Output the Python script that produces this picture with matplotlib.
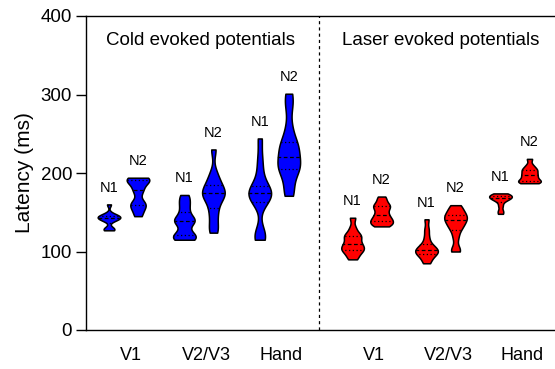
import numpy as np
import matplotlib
matplotlib.use("Agg")
import matplotlib.pyplot as plt

plt.rcParams["font.family"] = ["Liberation Sans", "DejaVu Sans"]

# Latencies (ms) per subject for each condition
cold_v1_n1 = [127, 128, 130, 139, 141, 142, 143, 144, 145, 146, 148, 160]
cold_v1_n2 = [145, 152, 158, 160, 163, 176, 180, 188, 190, 192, 193, 194]
cold_v2_n1 = [115, 116, 118, 121, 124, 135, 139, 140, 142, 150, 158, 165, 172]
cold_v2_n2 = [124, 132, 145, 155, 165, 170, 174, 175, 178, 185, 190, 200, 230]
cold_hand_n1 = [115, 119, 124, 163, 167, 171, 175, 176, 178, 184, 200, 218, 244]
cold_hand_n2 = [171, 182, 200, 205, 208, 215, 221, 230, 236, 240, 258, 285, 301]

laser_v1_n1 = [90, 95, 100, 102, 104, 106, 110, 112, 118, 120, 122, 130, 143]
laser_v1_n2 = [132, 134, 136, 138, 140, 142, 145, 148, 152, 156, 158, 160, 165, 170]
laser_v2_n1 = [85, 90, 95, 97, 99, 100, 102, 104, 106, 110, 118, 128, 141]
laser_v2_n2 = [100, 103, 118, 128, 132, 136, 140, 142, 144, 147, 150, 155, 159]
laser_hand_n1 = [148, 152, 158, 163, 166, 167, 168, 169, 170, 171, 172, 173, 174]
laser_hand_n2 = [187, 188, 189, 190, 192, 195, 197, 199, 202, 204, 206, 210, 218]

sites = ["V1", "V2/V3", "Hand"]
components = ["N1", "N2"]
cold_series = [cold_v1_n1, cold_v1_n2, cold_v2_n1, cold_v2_n2, cold_hand_n1, cold_hand_n2]
laser_series = [laser_v1_n1, laser_v1_n2, laser_v2_n1, laser_v2_n2, laser_hand_n1, laser_hand_n2]
panel_titles = ["Cold evoked potentials", "Laser evoked potentials"]
panel_colors = ["#0000FF", "#FF0000"]
y_ticks = [0, 100, 200, 300, 400]

fig = plt.figure(figsize=(5.55, 3.69), dpi=100)
ax = fig.add_axes([86 / 555, 39 / 369, (555 - 86) / 555, 314 / 369])

panel_starts = [0.0, 8.4]
group_step = [2.6, 2.55]
vwidth = 0.78

tick_pos, tick_lab = [], []
for p, (series, color) in enumerate(zip([cold_series, laser_series], panel_colors)):
    for g, site in enumerate(sites):
        for c, comp in enumerate(components):
            data = np.asarray(series[2 * g + c], dtype=float)
            pos = panel_starts[p] + g * group_step[p] + c
            parts = ax.violinplot([data], positions=[pos], widths=vwidth,
                                  showextrema=False, bw_method=0.32)
            body = parts["bodies"][0]
            body.set_facecolor(color)
            body.set_edgecolor("black")
            body.set_linewidth(1.1)
            body.set_alpha(1)
            q1, med, q3 = np.percentile(data, [25, 50, 75])
            clip_path = body.get_paths()[0]
            for val, ls in [(med, (0, (3, 2))), (q1, (0, (1, 2))), (q3, (0, (1, 2)))]:
                ln = ax.hlines(val, pos - vwidth / 2, pos + vwidth / 2,
                               colors="black", linewidth=0.9, linestyles=[ls])
                ln.set_clip_path(clip_path, ax.transData)
            ax.annotate(comp, (pos, data.max()), xytext=(0, 7),
                        textcoords="offset points", ha="center", va="bottom",
                        fontsize=10.5)
        tick_pos.append(panel_starts[p] + g * group_step[p] + 0.75)
        tick_lab.append(site)

ax.axvline(7.24, color="black", linewidth=0.9, linestyle=(0, (2.5, 2.5)))
ax.text(3.14, 369, panel_titles[0], ha="center", va="center", fontsize=13.5)
ax.text(11.43, 369, panel_titles[1], ha="center", va="center", fontsize=13.5)

ax.set_xlim(-0.793, 15.38)
ax.set_ylim(0, 400)
ax.set_yticks(y_ticks)
ax.set_xticks(tick_pos)
ax.set_xticklabels(tick_lab)
ax.tick_params(axis="x", length=0, pad=12, labelsize=13)
ax.tick_params(axis="y", length=7, width=1, pad=3, labelsize=13.5)
ax.set_ylabel("Latency (ms)", fontsize=15, labelpad=5)
ax.spines["right"].set_visible(False)
for s in ["left", "bottom", "top"]:
    ax.spines[s].set_linewidth(1.0)

fig.savefig("out.png", dpi=100)
